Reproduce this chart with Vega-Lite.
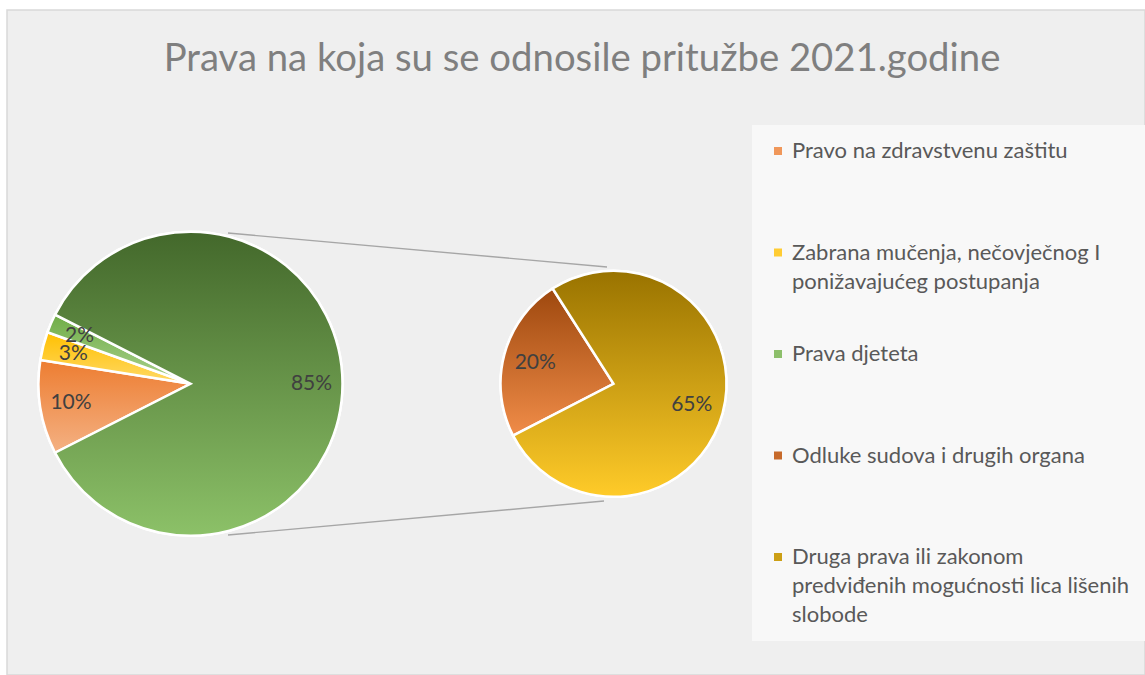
{
  "$schema": "https://vega.github.io/schema/vega-lite/v6.json",
  "width": 1138,
  "height": 665,
  "autosize": {"type": "none"},
  "padding": {"left": 7, "top": 10, "right": 0, "bottom": 0},
  "background": "#ffffff",
  "params": [{"name": "cy", "value": 373.75}],
  "title": {
    "text": "Prava na koja su se odnosile pritužbe 2021.godine",
    "font": "Lato",
    "fontWeight": 400,
    "fontSize": 38.3,
    "color": "#7f7f7f",
    "anchor": "middle",
    "frame": "group",
    "baseline": "alphabetic",
    "offset": -99,
    "dx": 6
  },
  "data": {
    "values": [
      {"pita": "glavna", "kategorija": "Pravo na zdravstvenu zaštitu", "udio": 0.10, "redoslijed": 1},
      {"pita": "glavna", "kategorija": "Zabrana mučenja, nečovječnog I ponižavajućeg postupanja", "udio": 0.03, "redoslijed": 2},
      {"pita": "glavna", "kategorija": "Prava djeteta", "udio": 0.02, "redoslijed": 3},
      {"pita": "glavna", "kategorija": "Ostala prava", "udio": 0.85, "redoslijed": 4},
      {"pita": "detalj", "kategorija": "Odluke sudova i drugih organa", "udio": 0.20, "redoslijed": 5},
      {"pita": "detalj", "kategorija": "Druga prava ili zakonom predviđenih mogućnosti lica lišenih slobode", "udio": 0.65, "redoslijed": 6}
    ]
  },
  "transform": [
    {"stack": "udio", "groupby": ["pita"], "sort": [{"field": "redoslijed", "order": "ascending"}], "as": ["t0", "t1"]}
  ],
  "encoding": {
    "x": {
      "field": "pita",
      "type": "nominal",
      "scale": {"type": "point", "domain": ["glavna", "detalj"], "range": [183.5, 606.5], "padding": 0},
      "axis": null
    }
  },
  "layer": [
    {
      "transform": [{"filter": "datum.pita === 'glavna'"}],
      "mark": {"type": "arc", "radius": 152, "stroke": "#ffffff", "strokeWidth": 2.5, "y": {"expr": "cy"}},
      "encoding": {
        "theta": {"field": "t0", "type": "quantitative", "scale": {"domain": [0, 1], "range": [4.2412, 10.5244]}},
        "theta2": {"field": "t1"},
        "color": {
          "field": "kategorija",
          "type": "nominal",
          "scale": {
            "domain": [
              "Pravo na zdravstvenu zaštitu",
              "Zabrana mučenja, nečovječnog I ponižavajućeg postupanja",
              "Prava djeteta",
              "Ostala prava",
              "Odluke sudova i drugih organa",
              "Druga prava ili zakonom predviđenih mogućnosti lica lišenih slobode"
            ],
            "range": ["#F0975A", "#FFCC33", "#8DBF6B", "#67944A", "#C76A2B", "#CC9F15"]
          },
          "legend": {
            "orient": "none",
            "legendX": 745,
            "legendY": 115,
            "direction": "vertical",
            "title": null,
            "values": [
              "Pravo na zdravstvenu zaštitu",
              "Zabrana mučenja, nečovječnog I ponižavajućeg postupanja",
              "Prava djeteta",
              "Odluke sudova i drugih organa",
              "Druga prava ili zakonom predviđenih mogućnosti lica lišenih slobode"
            ],
            "symbolType": "square",
            "symbolSize": 64,
            "symbolStrokeWidth": 0,
            "labelFont": "Lato",
            "labelFontSize": 22,
            "labelColor": "#595959",
            "labelLimit": 420,
            "labelBaseline": "middle",
            "labelOffset": 3,
            "labelExpr": "split(replace(replace(replace(datum.label, 'I ponižavajućeg', 'I\\nponižavajućeg'), 'zakonom ', 'zakonom\\n'), 'lišenih ', 'lišenih\\n'), '\\n')",
            "gridAlign": "all",
            "rowPadding": 21.5,
            "padding": 15,
            "fillColor": "#f8f8f8"
          }
        }
      }
    },
    {
      "transform": [{"filter": "datum.pita === 'detalj'"}],
      "mark": {"type": "arc", "radius": 113, "stroke": "#ffffff", "strokeWidth": 2.5, "y": {"expr": "cy"}},
      "encoding": {
        "theta": {"field": "t0", "type": "quantitative", "scale": {"domain": [0, 0.85], "range": [4.236, 10.519]}},
        "theta2": {"field": "t1"},
        "color": {"field": "kategorija", "type": "nominal"}
      }
    },
    {
      "transform": [{"filter": "datum.kategorija === 'Pravo na zdravstvenu zaštitu'"}],
      "mark": {"type": "arc", "radius": 152, "stroke": "#ffffff", "strokeWidth": 2.5, "y": {"expr": "cy"},
        "fill": {"gradient": "linear", "x1": 0, "y1": 0, "x2": 0, "y2": 1, "stops": [{"offset": 0, "color": "#ED7D31"}, {"offset": 1, "color": "#F4B183"}]}},
      "encoding": {
        "theta": {"field": "t0", "type": "quantitative", "scale": {"domain": [0, 1], "range": [4.2412, 10.5244]}},
        "theta2": {"field": "t1"}
      }
    },
    {
      "transform": [{"filter": "datum.kategorija === 'Zabrana mučenja, nečovječnog I ponižavajućeg postupanja'"}],
      "mark": {"type": "arc", "radius": 152, "stroke": "#ffffff", "strokeWidth": 2.5, "y": {"expr": "cy"},
        "fill": {"gradient": "linear", "x1": 0, "y1": 0, "x2": 0, "y2": 1, "stops": [{"offset": 0, "color": "#FFC000"}, {"offset": 1, "color": "#FFD966"}]}},
      "encoding": {
        "theta": {"field": "t0", "type": "quantitative", "scale": {"domain": [0, 1], "range": [4.2412, 10.5244]}},
        "theta2": {"field": "t1"}
      }
    },
    {
      "transform": [{"filter": "datum.kategorija === 'Prava djeteta'"}],
      "mark": {"type": "arc", "radius": 152, "stroke": "#ffffff", "strokeWidth": 2.5, "y": {"expr": "cy"},
        "fill": {"gradient": "linear", "x1": 0, "y1": 0, "x2": 0, "y2": 1, "stops": [{"offset": 0, "color": "#70AD47"}, {"offset": 1, "color": "#A9D18E"}]}},
      "encoding": {
        "theta": {"field": "t0", "type": "quantitative", "scale": {"domain": [0, 1], "range": [4.2412, 10.5244]}},
        "theta2": {"field": "t1"}
      }
    },
    {
      "transform": [{"filter": "datum.kategorija === 'Ostala prava'"}],
      "mark": {"type": "arc", "radius": 152, "stroke": "#ffffff", "strokeWidth": 2.5, "y": {"expr": "cy"},
        "fill": {"gradient": "linear", "x1": 0, "y1": 0, "x2": 0, "y2": 1, "stops": [{"offset": 0, "color": "#43682B"}, {"offset": 1, "color": "#8CC168"}]}},
      "encoding": {
        "theta": {"field": "t0", "type": "quantitative", "scale": {"domain": [0, 1], "range": [4.2412, 10.5244]}},
        "theta2": {"field": "t1"}
      }
    },
    {
      "transform": [{"filter": "datum.kategorija === 'Odluke sudova i drugih organa'"}],
      "mark": {"type": "arc", "radius": 113, "stroke": "#ffffff", "strokeWidth": 2.5, "y": {"expr": "cy"},
        "fill": {"gradient": "linear", "x1": 0, "y1": 0, "x2": 0, "y2": 1, "stops": [{"offset": 0, "color": "#9E480E"}, {"offset": 1, "color": "#F08C48"}]}},
      "encoding": {
        "theta": {"field": "t0", "type": "quantitative", "scale": {"domain": [0, 0.85], "range": [4.236, 10.519]}},
        "theta2": {"field": "t1"}
      }
    },
    {
      "transform": [{"filter": "datum.kategorija === 'Druga prava ili zakonom predviđenih mogućnosti lica lišenih slobode'"}],
      "mark": {"type": "arc", "radius": 113, "stroke": "#ffffff", "strokeWidth": 2.5, "y": {"expr": "cy"},
        "fill": {"gradient": "linear", "x1": 0, "y1": 0, "x2": 0, "y2": 1, "stops": [{"offset": 0, "color": "#997300"}, {"offset": 1, "color": "#FFCB29"}]}},
      "encoding": {
        "theta": {"field": "t0", "type": "quantitative", "scale": {"domain": [0, 0.85], "range": [4.236, 10.519]}},
        "theta2": {"field": "t1"}
      }
    },
    {
      "transform": [{"filter": "datum.pita === 'glavna'"}],
      "mark": {"type": "text", "radius": 121, "y": {"expr": "cy"}, "font": "Lato", "fontSize": 21, "color": "#404040", "align": "center", "baseline": "middle"},
      "encoding": {
        "theta": {"field": "udio", "type": "quantitative", "stack": true, "scale": {"domain": [0, 1], "range": [4.2412, 10.5244]}},
        "order": {"field": "redoslijed", "type": "quantitative"},
        "detail": {"field": "kategorija", "type": "nominal"},
        "text": {"field": "udio", "type": "quantitative", "format": ".0%"}
      }
    },
    {
      "transform": [{"filter": "datum.pita === 'detalj'"}],
      "mark": {"type": "text", "radius": 81, "y": {"expr": "cy"}, "font": "Lato", "fontSize": 21, "color": "#404040", "align": "center", "baseline": "middle"},
      "encoding": {
        "theta": {"field": "udio", "type": "quantitative", "stack": true, "scale": {"domain": [0, 0.85], "range": [4.236, 10.519]}},
        "order": {"field": "redoslijed", "type": "quantitative"},
        "detail": {"field": "kategorija", "type": "nominal"},
        "text": {"field": "udio", "type": "quantitative", "format": ".0%"}
      }
    },
    {
      "data": {"values": [{}]},
      "mark": {"type": "rule", "color": "#a6a6a6", "strokeWidth": 1.4, "xOffset": 37.5, "x2Offset": -6.5},
      "encoding": {
        "x": {"datum": "glavna", "type": "nominal"},
        "x2": {"datum": "detalj"},
        "y": {"value": {"expr": "cy-150.75"}},
        "y2": {"value": {"expr": "cy-116.75"}}
      }
    },
    {
      "data": {"values": [{}]},
      "mark": {"type": "rule", "color": "#a6a6a6", "strokeWidth": 1.4, "xOffset": 37.5, "x2Offset": -9.5},
      "encoding": {
        "x": {"datum": "glavna", "type": "nominal"},
        "x2": {"datum": "detalj"},
        "y": {"value": {"expr": "cy+151.25"}},
        "y2": {"value": {"expr": "cy+117.25"}}
      }
    }
  ],
  "resolve": {"scale": {"theta": "independent"}},
  "config": {
    "view": {"fill": "#efefef", "stroke": "#d9d9d9", "strokeWidth": 1.5},
    "style": {"guide-label": {"lineHeight": 29}}
  }
}
